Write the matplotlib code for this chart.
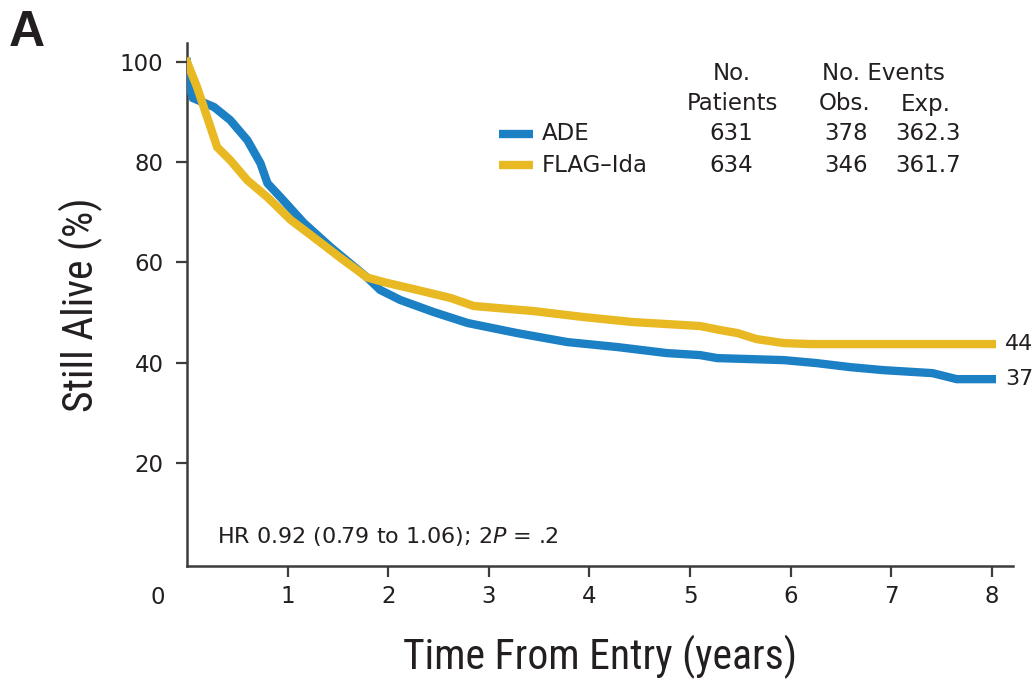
import matplotlib
matplotlib.use("Agg")
import matplotlib.pyplot as plt
from matplotlib import font_manager

# ---------------- data ----------------
ade_t = [0.0, 0.04, 0.06, 0.27, 0.43, 0.60, 0.73, 0.80, 0.93, 1.16, 1.43, 1.79,
         1.92, 2.12, 2.45, 2.79, 3.28, 3.78, 4.28, 4.77, 5.10, 5.27, 5.93, 6.26,
         6.59, 6.92, 7.41, 7.65, 8.00]
ade_s = [100.0, 94.0, 92.8, 91.0, 88.4, 84.4, 79.8, 75.8, 73.0, 67.9, 63.0, 57.0,
         54.5, 52.5, 50.1, 47.9, 45.9, 44.1, 43.1, 41.9, 41.5, 40.9, 40.5, 39.9,
         39.1, 38.5, 37.9, 36.7, 36.7]

flag_t = [0.0, 0.10, 0.20, 0.30, 0.43, 0.60, 0.80, 1.03, 1.26, 1.52, 1.79, 1.95,
          2.29, 2.62, 2.85, 3.44, 3.94, 4.43, 5.10, 5.30, 5.47, 5.66, 5.93, 6.20,
          8.00]
flag_s = [100.0, 95.0, 89.0, 83.0, 80.4, 76.4, 73.0, 68.5, 65.0, 61.0, 57.0, 56.1,
          54.5, 52.9, 51.3, 50.3, 49.1, 48.1, 47.3, 46.5, 45.9, 44.7, 43.9, 43.7,
          43.7]

arms = ["ADE", "FLAG\u2013Ida"]
n_patients = ["631", "634"]
obs_events = ["378", "346"]
exp_events = ["362.3", "361.7"]
end_labels = ["37", "44"]
x_ticks = [1, 2, 3, 4, 5, 6, 7, 8]
y_ticks = [20, 40, 60, 80, 100]

BLUE = "#1b80c4"
GOLD = "#e8b922"
TXT = "#231f20"
AX = "#3c3c3c"

names = {f.name for f in font_manager.fontManager.ttflist}
TITLEFONT = "Liberation Sans"
for cand in ["Roboto Condensed", "Liberation Sans Narrow", "Arial Narrow",
             "Archivo Narrow", "PT Sans Narrow", "IBM Plex Sans Condensed",
             "Barlow Semi Condensed", "Encode Sans Condensed"]:
    if cand in names:
        TITLEFONT = cand
        break
BODY = "DejaVu Sans"
plt.rcParams["font.family"] = [BODY]

W, H = 1035, 681
fig = plt.figure(figsize=(W / 100, H / 100), dpi=100)
ax = fig.add_axes([187 / W, 1 - 566 / H, (1013 - 187) / W, (566 - 43) / H])

def fx(px):
    return px / W

def fy(py):
    return 1 - py / H

ax.plot(ade_t, ade_s, color=BLUE, lw=6, solid_joinstyle="miter", zorder=3)
ax.plot(flag_t, flag_s, color=GOLD, lw=6, solid_joinstyle="miter", zorder=4)

ax.set_xlim(0, 8.21)
ax.set_ylim(-0.6, 103.8)

for s in ["top", "right"]:
    ax.spines[s].set_visible(False)
for s in ["left", "bottom"]:
    ax.spines[s].set_color(AX)
    ax.spines[s].set_linewidth(1.8)

TICKFS = 16.5
ax.set_xticks(x_ticks)
ax.set_xticklabels([str(v) for v in x_ticks])
ax.set_yticks(y_ticks)
ax.set_yticklabels([str(v) for v in y_ticks])
ax.tick_params(axis="both", direction="out", length=8, width=1.6, color=AX,
               labelsize=TICKFS, labelcolor=TXT)
ax.tick_params(axis="x", pad=6)
ax.tick_params(axis="y", pad=9)

fig.text(fx(158), fy(598), "0", fontsize=TICKFS, color=TXT, ha="center", va="center")

ax.set_xlabel("Time From Entry (years)", fontsize=30, color=TXT, labelpad=19,
              family=TITLEFONT)
ax.set_ylabel("Still Alive (%)", fontsize=30, color=TXT, labelpad=12,
              family=TITLEFONT)

fig.text(fx(9), fy(33), "A", fontsize=36, fontweight="bold", color=TXT,
         ha="left", va="center", family="Liberation Sans")

# legend table
fs = 16.5
fig.text(fx(732), fy(73), "No.", fontsize=fs, color=TXT, ha="center", va="center")
fig.text(fx(732), fy(104), "Patients", fontsize=fs, color=TXT, ha="center", va="center")
fig.text(fx(883), fy(73), "No. Events", fontsize=fs, color=TXT, ha="center", va="center")
fig.text(fx(845), fy(104), "Obs.", fontsize=fs, color=TXT, ha="center", va="center")
fig.text(fx(926), fy(104), "Exp.", fontsize=fs, color=TXT, ha="center", va="center")

row_y = [134, 165]
colors = [BLUE, GOLD]
for i in range(2):
    y = row_y[i]
    fig.add_artist(plt.Line2D([fx(499), fx(533)], [fy(y), fy(y)], color=colors[i],
                              lw=6, solid_capstyle="butt"))
    fig.text(fx(542), fy(y), arms[i], fontsize=fs, color=TXT, ha="left", va="center")
    fig.text(fx(731), fy(y), n_patients[i], fontsize=fs, color=TXT, ha="center", va="center")
    fig.text(fx(846), fy(y), obs_events[i], fontsize=fs, color=TXT, ha="center", va="center")
    fig.text(fx(928), fy(y), exp_events[i], fontsize=fs, color=TXT, ha="center", va="center")

# end labels
ax.text(8.13, ade_s[-1], end_labels[0], fontsize=16, color=TXT, ha="left", va="center")
ax.text(8.13, flag_s[-1], end_labels[1], fontsize=16, color=TXT, ha="left", va="center")

# HR annotation
fig.text(fx(217), fy(536), "HR 0.92 (0.79 to 1.06); 2$\\it{P}$ = .2", fontsize=16,
         color=TXT, ha="left", va="center")

fig.savefig("out.png", dpi=100, facecolor="white")
